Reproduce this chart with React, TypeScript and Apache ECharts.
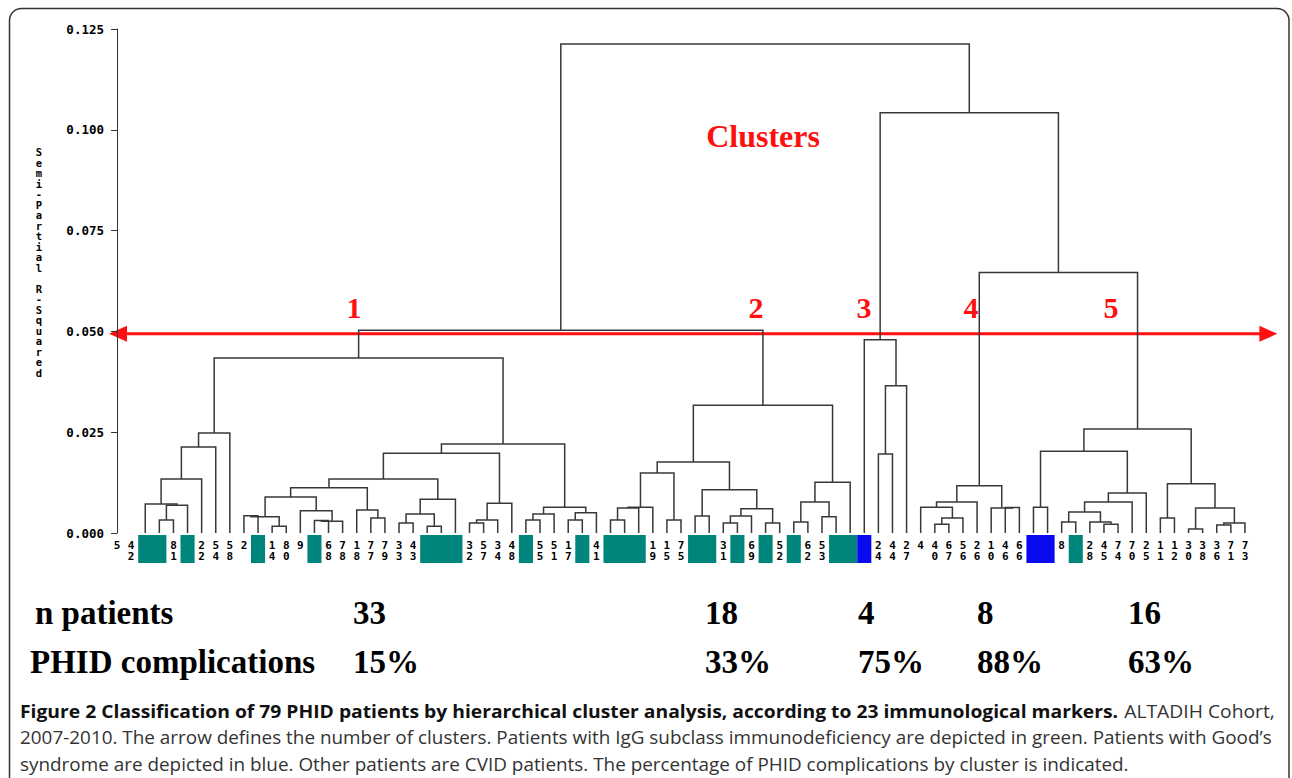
import { useEffect, useRef } from 'react';
import * as echarts from 'echarts';

// ---------------- data ----------------
// leaf order along the x axis (81 leaf slots); empty = label hidden by a coloured box
const leafLabels: string[] = [
  '5', '42', '', '', '81', '', '22', '54', '58', '2',
  '', '14', '80', '9', '', '68', '78', '18', '77', '79',
  '33', '43', '', '', '', '32', '57', '34', '48', '',
  '55', '51', '17', '', '41', '', '', '', '19', '15',
  '75', '', '', '31', '', '69', '', '52', '', '62',
  '53', '', '', '', '24', '44', '27', '4', '40', '67',
  '56', '26', '10', '46', '66', '', '', '8', '', '28',
  '45', '74', '70', '25', '11', '12', '30', '38', '36', '71',
  '73',
];
// IgG subclass immunodeficiency (green) and Good's syndrome (blue) leaves
const greenLeaves: number[] = [2, 3, 5, 10, 14, 22, 23, 24, 29, 33, 35, 36, 37, 41, 42, 44, 46, 48, 51, 52, 68];
const blueLeaves: number[] = [53, 65, 66];

// merges: [name, left child, right child, semi-partial R-squared]
type Ref = number | string;
const merges: [string, Ref, Ref, number][] = [
  // cluster 1
  ['N1', 3, 4, 0.0032], ['N2', 'N1', 5, 0.0069], ['N3', 2, 'N2', 0.0072],
  ['N4', 'N3', 6, 0.0134], ['N5', 'N4', 7, 0.0213], ['N6', 'N5', 8, 0.0248],
  ['a', 9, 10, 0.0043], ['b', 11, 12, 0.0017], ['ab', 'a', 'b', 0.0040],
  ['e', 14, 15, 0.0031], ['e2', 'e', 16, 0.0029], ['g', 13, 'e2', 0.0055],
  ['d', 'ab', 'g', 0.0089], ['h', 18, 19, 0.0037], ['i', 17, 'h', 0.0057],
  ['f', 'd', 'i', 0.0112], ['j', 20, 21, 0.0025], ['k', 22, 23, 0.0017],
  ['l', 'j', 'k', 0.0047], ['m', 'l', 24, 0.0084], ['n', 'f', 'm', 0.0134],
  ['p', 25, 26, 0.0025], ['q', 'p', 27, 0.0032], ['o', 'q', 28, 0.0074],
  ['r', 'n', 'o', 0.0198], ['t', 29, 30, 0.0032], ['u', 't', 31, 0.0047],
  ['v', 32, 33, 0.0032], ['w', 'v', 34, 0.0050], ['s', 'u', 'w', 0.0064],
  ['rs', 'r', 's', 0.0221], ['C1', 'N6', 'rs', 0.0434],
  // cluster 2
  ['aa', 35, 36, 0.0032], ['bb', 'aa', 37, 0.0062], ['cc', 'bb', 38, 0.0064],
  ['dd', 39, 40, 0.0032], ['ee', 'cc', 'dd', 0.0149], ['ff', 41, 42, 0.0042],
  ['gg', 43, 44, 0.0025], ['hh', 'gg', 45, 0.0042], ['ii', 46, 47, 0.0025],
  ['jj', 'hh', 'ii', 0.0060], ['kk', 'ff', 'jj', 0.0107], ['ll', 'ee', 'kk', 0.0176],
  ['mm', 48, 49, 0.0027], ['nn', 50, 51, 0.0040], ['oo', 'mm', 'nn', 0.0077],
  ['pp', 'oo', 52, 0.0126], ['C2', 'll', 'pp', 0.0317],
  ['C12', 'C1', 'C2', 0.0503],
  // cluster 3
  ['c3a', 54, 55, 0.0196], ['c3b', 'c3a', 56, 0.0365], ['C3', 53, 'c3b', 0.0479],
  // cluster 4
  ['qq', 58, 59, 0.0022], ['rr', 'qq', 60, 0.0037], ['ss', 57, 'rr', 0.0064],
  ['tt', 'ss', 61, 0.0077], ['uu', 63, 64, 0.0063], ['vv', 62, 'uu', 0.0062],
  ['C4', 'tt', 'vv', 0.0117],
  // cluster 5
  ['ae', 65, 66, 0.0064], ['ag', 67, 68, 0.0027], ['a70', 70, 71, 0.0022],
  ['ah', 69, 'a70', 0.0027], ['ai', 'ag', 'ah', 0.0052], ['aj', 'ai', 72, 0.0077],
  ['ak', 'aj', 73, 0.0099], ['al', 'ae', 'ak', 0.0203], ['xx', 74, 75, 0.0037],
  ['yy', 76, 77, 0.0010], ['zz', 78, 79, 0.0020], ['ab2', 'zz', 80, 0.0025],
  ['ac', 'yy', 'ab2', 0.0062], ['ad', 'xx', 'ac', 0.0122], ['C5', 'al', 'ad', 0.0258],
  ['C45', 'C4', 'C5', 0.0646], ['C345', 'C3', 'C45', 0.1042],
  ['root', 'C12', 'C345', 0.1213],
];

const yMin = 0;
const yMax = 0.125;
const yStep = 0.025;
const arrowLevel = 0.0494;

const yAxisTitle = 'Semi-Partial R-Squared';
const chartTitle = 'Clusters';
const clusterNames: string[] = ['1', '2', '3', '4', '5'];
const rowNames: string[] = ['n patients', 'PHID complications'];
const nPatients: string[] = ['33', '18', '4', '8', '16'];
const complications: string[] = ['15%', '33%', '75%', '88%', '63%'];
const captionBold = 'Figure 2 Classification of 79 PHID patients by hierarchical cluster analysis, according to 23 immunological markers.';
const captionLines: string[] = [
  ' ALTADIH Cohort,',
  '2007-2010. The arrow defines the number of clusters. Patients with IgG subclass immunodeficiency are depicted in green. Patients with Good\u2019s',
  'syndrome are depicted in blue. Other patients are CVID patients. The percentage of PHID complications by cluster is indicated.',
];

// ---------------- layout ----------------
const GRID = { left: 110, top: 29, width: 1142, height: 504 };
const clusterLabelX = [354, 756, 864, 971, 1111];
const tableColX = [353, 705, 858, 977, 1128];
const RED = '#ff1010';
const LINK = '#383838';
const SERIF = '"Liberation Serif", "Times New Roman", serif';
const MONO = '"DejaVu Sans Mono", monospace';
const SANS = '"Open Sans", "Noto Sans", sans-serif';

function buildLinks() {
  const nx: Record<string, number> = {};
  const nh: Record<string, number> = {};
  const xOf = (r: Ref) => (typeof r === 'number' ? r : nx[r]);
  const hOf = (r: Ref) => (typeof r === 'number' ? 0 : nh[r]);
  return merges.map(([name, l, r, h]) => {
    const xl = xOf(l);
    const xr = xOf(r);
    nx[name] = (xl + xr) / 2;
    nh[name] = h;
    return [xl, hOf(l), xr, hOf(r), h];
  });
}

// group consecutive coloured leaves into runs [first, last]
function runs(leaves: number[]) {
  const s = [...leaves].sort((a, b) => a - b);
  const out: number[][] = [];
  s.forEach((v) => {
    const last = out[out.length - 1];
    if (last && last[1] === v - 1) last[1] = v;
    else out.push([v, v]);
  });
  return out;
}

function measure(text: string, font: string) {
  const c = document.createElement('canvas').getContext('2d');
  if (!c) return text.length * 8;
  c.font = font;
  return c.measureText(text).width;
}

function txt(x: number, y: number, text: string, o: any) {
  const align = o.align || 'left';
  const va = o.va || 'middle';
  return {
    type: 'text',
    x,
    y,
    scaleX: o.scaleX || 1,
    silent: true,
    style: {
      text,
      fill: o.color || '#000',
      fontSize: o.size,
      fontFamily: o.family,
      fontWeight: o.weight || 'normal',
      lineHeight: o.lineHeight,
      align,
      textAlign: align,
      verticalAlign: va,
      textVerticalAlign: va,
    },
  };
}

export default function App() {
  const ref = useRef<HTMLDivElement>(null);

  useEffect(() => {
    if (!ref.current) return;
    const chart = echarts.init(ref.current, undefined, { renderer: 'svg' });
    const links = buildLinks();

    const rectItem = (color: string) => (params: any, api: any) => {
      const c0 = api.coord([api.value(0) - 0.5, 0]);
      const c1 = api.coord([api.value(1) + 0.5, 0]);
      return {
        type: 'rect',
        shape: { x: c0[0], y: c0[1] + 2, width: c1[0] - c0[0], height: 28 },
        style: { fill: color },
      };
    };

    chart.setOption({
      animation: false,
      grid: { ...GRID, containLabel: false },
      xAxis: [
        { type: 'value', min: -0.5, max: leafLabels.length - 0.5, show: false },
        {
          type: 'category',
          position: 'bottom',
          data: leafLabels.map((_, i) => String(i)),
          boundaryGap: true,
          axisLine: { show: false },
          axisTick: { show: false },
          splitLine: { show: false },
          axisLabel: {
            interval: 0,
            margin: 7,
            fontSize: 11,
            lineHeight: 11,
            fontWeight: 'bold',
            fontFamily: MONO,
            color: '#000',
            formatter: (v: string) => (leafLabels[Number(v)] || '').split('').join('\n'),
          },
        },
      ],
      yAxis: {
        type: 'value',
        min: yMin,
        max: yMax,
        interval: yStep,
        axisLine: { show: true, lineStyle: { color: '#333', width: 1 } },
        axisTick: { show: true, length: 6, lineStyle: { color: '#333' } },
        splitLine: { show: false },
        axisLabel: {
          formatter: (v: number) => v.toFixed(3),
          fontSize: 12.5,
          fontWeight: 'bold',
          fontFamily: MONO,
          color: '#000',
          margin: 6,
        },
      },
      series: [
        {
          type: 'custom',
          xAxisIndex: 0,
          yAxisIndex: 0,
          silent: true,
          encode: { x: [0, 2], y: [1, 3, 4] },
          data: links,
          renderItem: (params: any, api: any) => {
            const p1 = api.coord([api.value(0), api.value(1)]);
            const p2 = api.coord([api.value(0), api.value(4)]);
            const p3 = api.coord([api.value(2), api.value(4)]);
            const p4 = api.coord([api.value(2), api.value(3)]);
            return {
              type: 'polyline',
              shape: { points: [p1, p2, p3, p4] },
              style: { stroke: LINK, lineWidth: 1.5, fill: 'none' },
            };
          },
        },
        {
          type: 'custom',
          xAxisIndex: 0,
          yAxisIndex: 0,
          silent: true,
          clip: false,
          encode: { x: [0, 1] },
          data: runs(greenLeaves),
          renderItem: rectItem('#00857c'),
        },
        {
          type: 'custom',
          xAxisIndex: 0,
          yAxisIndex: 0,
          silent: true,
          clip: false,
          encode: { x: [0, 1] },
          data: runs(blueLeaves),
          renderItem: rectItem('#0a0af0'),
        },
      ],
    });

    const ay = chart.convertToPixel({ yAxisIndex: 0 }, arrowLevel) as number;
    const axl = chart.convertToPixel({ xAxisIndex: 0 }, -0.57) as number;
    const axr = chart.convertToPixel({ xAxisIndex: 0 }, 82.3) as number;
    const head = 18;
    const half = 8;

    const graphics: any[] = [];
    graphics.push({
      type: 'rect',
      silent: true,
      shape: { x: 9.5, y: 8.5, width: 1279.5, height: 820, r: 12 },
      style: { fill: 'none', stroke: '#333', lineWidth: 1.5 },
    });
    graphics.push(
      txt(39, 147, yAxisTitle.split('').join('\n'), {
        size: 10.5, family: MONO, weight: 'bold', lineHeight: 10.5, align: 'center', va: 'top',
      })
    );
    graphics.push(txt(763, 136, chartTitle, { size: 32, family: SERIF, weight: 'bold', color: RED, align: 'center' }));
    clusterNames.forEach((c, i) =>
      graphics.push(txt(clusterLabelX[i], 307, c, { size: 30, family: SERIF, weight: 'bold', color: RED, align: 'center' }))
    );
    // arrow
    graphics.push({
      type: 'line',
      silent: true,
      shape: { x1: axl + head - 2, y1: ay, x2: axr - head + 2, y2: ay },
      style: { stroke: RED, lineWidth: 3 },
    });
    graphics.push({
      type: 'polygon',
      silent: true,
      shape: { points: [[axl, ay], [axl + head, ay - half], [axl + head, ay + half]] },
      style: { fill: RED },
    });
    graphics.push({
      type: 'polygon',
      silent: true,
      shape: { points: [[axr, ay], [axr - head, ay - half], [axr - head, ay + half]] },
      style: { fill: RED },
    });
    // table
    graphics.push(txt(35, 613, rowNames[0], { size: 33, family: SERIF, weight: 'bold' }));
    graphics.push(txt(30, 662, rowNames[1], { size: 33, family: SERIF, weight: 'bold' }));
    nPatients.forEach((v, i) => graphics.push(txt(tableColX[i], 613, v, { size: 33, family: SERIF, weight: 'bold' })));
    complications.forEach((v, i) => graphics.push(txt(tableColX[i], 662, v, { size: 33, family: SERIF, weight: 'bold' })));

    // caption
    const fs = 18.5;
    const boldFont = `bold ${fs}px "Open Sans"`;
    const regFont = `normal ${fs}px "Open Sans"`;
    const wb = measure(captionBold, boldFont);
    const w1 = measure(captionLines[0], regFont);
    const w2 = measure(captionLines[1], regFont);
    const s1 = 1255 / (wb + w1);
    const s2 = 1253 / w2;
    graphics.push(txt(20, 711, captionBold, { size: fs, family: SANS, weight: 'bold', scaleX: s1, color: '#111' }));
    graphics.push(txt(20 + wb * s1, 711, captionLines[0], { size: fs, family: SANS, scaleX: s1, color: '#333' }));
    graphics.push(txt(20, 737, captionLines[1], { size: fs, family: SANS, scaleX: s2, color: '#333' }));
    graphics.push(txt(20, 764, captionLines[2], { size: fs, family: SANS, scaleX: s2, color: '#333' }));

    chart.setOption({ graphic: graphics });

    return () => chart.dispose();
  }, []);

  return <div ref={ref} style={{ position: 'absolute', left: 0, top: 0, width: 1292, height: 778, background: '#fff' }} />;
}
